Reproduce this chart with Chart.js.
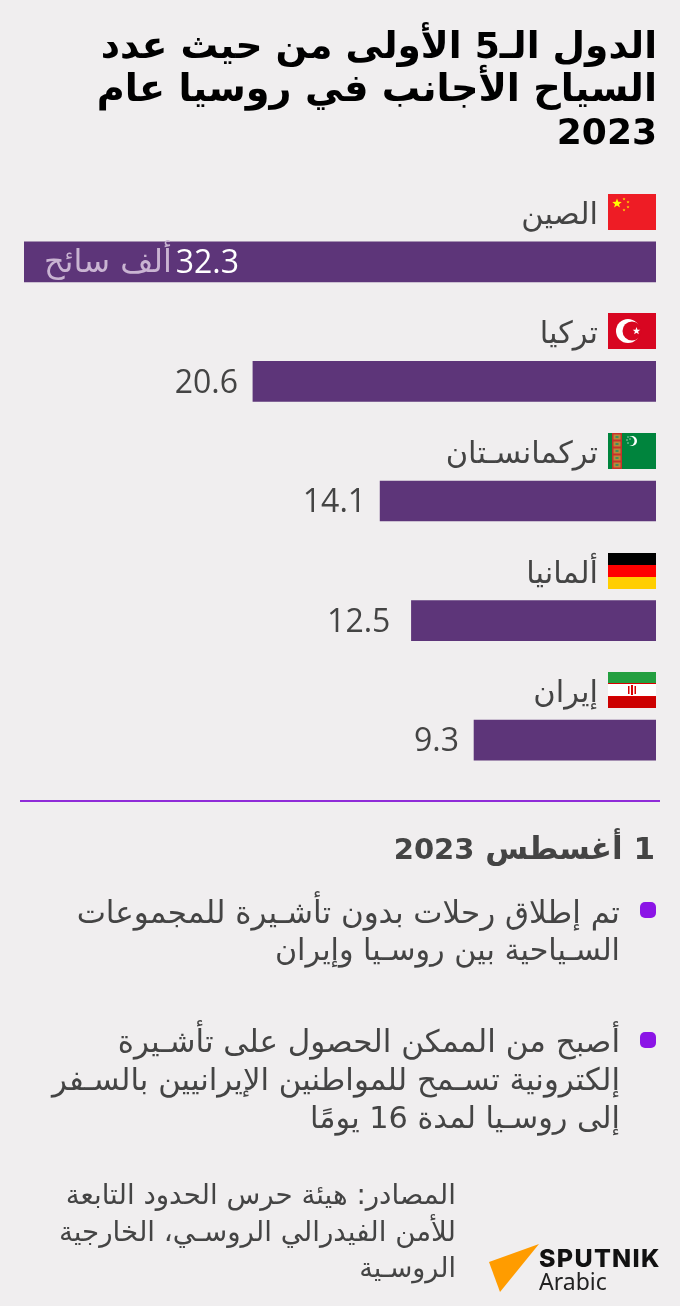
<!DOCTYPE html>
<html lang="ar" dir="rtl">
<head>
<meta charset="utf-8">
<script src="https://cdn.jsdelivr.net/npm/chart.js@4"></script>
<style>
html, body { margin: 0; padding: 0; background: #f0eeef; }
body { width: 680px; height: 1306px; position: relative; overflow: hidden; font-family: "DejaVu Sans", sans-serif; color: #444; }
#chart { position: absolute; left: 0; top: 0; }
.t { position: absolute; white-space: nowrap; direction: rtl; text-align: right; }
.title { right: 23px; font-size: 38px; font-weight: bold; color: #000; line-height: 44px; }
.title span { font-size: 36px; }
.date { right: 25px; top: 826px; font-size: 31px; font-weight: bold; line-height: 44px; }
.date span { font-size: 29px; }
.note { right: 60px; font-size: 31px; line-height: 38px; }
.src { right: 224px; font-size: 27.7px; line-height: 36px; }
.bullet { position: absolute; left: 640px; width: 16px; height: 16px; border-radius: 5px; background: #8b14e6; }
.rule { position: absolute; left: 20px; width: 640px; top: 800px; height: 2px; background: #8f2bd8; }
#logo { position: absolute; left: 486px; top: 1242px; }
.sp { position: absolute; left: 539px; top: 1243px; font: 800 25px "Inter", sans-serif; color: #111; direction: ltr; letter-spacing: 1.3px; }
.ar { position: absolute; left: 539px; top: 1265px; font: 23px "Noto Sans", sans-serif; color: #222; direction: ltr; }
</style>
</head>
<body>
<canvas id="chart" width="680" height="1306"></canvas>

<div class="t title" style="top:23px;font-size:37.5px">الدول الـ<span>5</span> الأولى من حيث عدد</div>
<div class="t title" style="top:66px;font-size:38.2px">السياح الأجانب في روسيا عام</div>
<div class="t title" style="top:109px"><span>2023</span></div>

<div class="rule"></div>
<div class="t date">1 أغسطس <span>2023</span></div>

<div class="bullet" style="top:902px"></div>
<div class="t note" style="top:893px">تم إطلاق رحلات بدون تأشـيرة للمجموعات</div>
<div class="t note" style="top:931px;font-size:30.2px">السـياحية بين روسـيا وإيران</div>

<div class="bullet" style="top:1032px"></div>
<div class="t note" style="top:1022px">أصبح من الممكن الحصول على تأشـيرة</div>
<div class="t note" style="top:1060px;font-size:30.8px">إلكترونية تسـمح للمواطنين الإيرانيين بالسـفر</div>
<div class="t note" style="top:1099px;font-size:30.3px">إلى روسـيا لمدة 16 يومًا</div>

<div class="t src" style="top:1177px">المصادر: هيئة حرس الحدود التابعة</div>
<div class="t src" style="top:1214px">للأمن الفيدرالي الروسـي، الخارجية</div>
<div class="t src" style="top:1250px;font-size:27px">الروسـية</div>

<svg id="logo" width="56" height="52"><polygon points="3,20 53,2 14,50" fill="#ff9c00"/></svg>
<div class="sp">SPUTNIK</div>
<div class="ar">Arabic</div>

<script>
const categories = ['الصين', 'تركيا', 'تركمانسـتان', 'ألمانيا', 'إيران'];
const values = [32.3, 20.6, 14.1, 12.5, 9.3];
const unitLabel = 'ألف سائح';

// gap between a bar's end and its value
const labelGaps = [0, 15, 14, 21, 15];

function stripes(ctx, x, y, w, h, colors) {
    const sh = h / colors.length;
    colors.forEach((c, i) => {
        ctx.fillStyle = c;
        ctx.fillRect(x, y + i * sh, w, sh);
    });
}

function star(ctx, cx, cy, r, color) {
    ctx.fillStyle = color;
    ctx.beginPath();
    for (let i = 0; i < 10; i++) {
        const a = -Math.PI / 2 + i * Math.PI / 5;
        const rr = i % 2 ? r * 0.42 : r;
        ctx.lineTo(cx + rr * Math.cos(a), cy + rr * Math.sin(a));
    }
    ctx.closePath();
    ctx.fill();
}

function crescent(ctx, cx, cy, r, dx, r2, color, bg) {
    ctx.fillStyle = color;
    ctx.beginPath();
    ctx.arc(cx, cy, r, 0, Math.PI * 2);
    ctx.fill();
    ctx.fillStyle = bg;
    ctx.beginPath();
    ctx.arc(cx + dx, cy, r2, 0, Math.PI * 2);
    ctx.fill();
}

// flags, one per category
const flags = [
    (ctx, x, y, w, h) => {
        stripes(ctx, x, y, w, h, ['#ee1c25']);
        star(ctx, x + 9, y + 9.5, 5, '#ffff00');
        [[16, 5], [20, 8], [20, 13], [16, 16]].forEach(p => star(ctx, x + p[0], y + p[1], 1.6, '#ffde00'));
    },
    (ctx, x, y, w, h) => {
        stripes(ctx, x, y, w, h, ['#d80621']);
        crescent(ctx, x + 20, y + 18, 12, 4, 9.5, '#ffffff', '#d80621');
        star(ctx, x + 28.5, y + 18, 4, '#ffffff');
    },
    (ctx, x, y, w, h) => {
        stripes(ctx, x, y, w, h, ['#00843d']);
        ctx.fillStyle = '#c8312a';
        ctx.fillRect(x + 4, y, 10, h);
        ctx.fillStyle = '#b9893a';
        for (let i = 0; i < 5; i++) ctx.fillRect(x + 5.5, y + 1.5 + i * 7, 7, 5);
        ctx.fillStyle = '#3f8f5a';
        for (let i = 0; i < 5; i++) ctx.fillRect(x + 7.5, y + 3 + i * 7, 3, 2);
        crescent(ctx, x + 24, y + 8, 5, -2, 4.5, '#ffffff', '#00843d');
        [[20, 4], [19, 7], [20, 10], [22, 6]].forEach(p => star(ctx, x + p[0], y + p[1], 1, '#ffffff'));
    },
    (ctx, x, y, w, h) => {
        stripes(ctx, x, y, w, h, ['#000000', '#ff0000', '#ffce00']);
    },
    (ctx, x, y, w, h) => {
        stripes(ctx, x, y, w, h, ['#239f40', '#ffffff', '#cc0000']);
        ctx.fillStyle = '#da0000';
        ctx.fillRect(x + 20, y + 14, 1.5, 8);
        ctx.fillRect(x + 23, y + 13, 2, 10);
        ctx.fillRect(x + 26.5, y + 14, 1.5, 8);
        ctx.fillRect(x, y + 11, w, 1);
        ctx.fillRect(x, y + 24, w, 1);
    }
];

const barLabels = {
    id: 'barLabels',
    afterDatasetsDraw(chart) {
        const { ctx, scales: { x, y } } = chart;
        const right = x.getPixelForValue(0);
        ctx.save();
        values.forEach((v, i) => {
            const cy = y.getPixelForValue(i);
            const left = x.getPixelForValue(v);

            // flag and country name above the bar
            flags[i](ctx, right - 48, Math.round(cy - 68), 48, 36);
            ctx.direction = 'rtl';
            ctx.textAlign = 'right';
            ctx.textBaseline = 'middle';
            ctx.fillStyle = '#444';
            ctx.font = '30.5px "DejaVu Sans"';
            ctx.fillText(categories[i], right - 58, cy - 46);

            // value, the first one sits inside its bar with the unit
            ctx.direction = 'ltr';
            ctx.font = '32px "Open Sans"';
            if (i === 0) {
                ctx.textAlign = 'right';
                ctx.fillStyle = '#fff';
                ctx.fillText(v.toFixed(1), left + 215, cy + 2);
                ctx.direction = 'rtl';
                ctx.textAlign = 'right';
                ctx.fillStyle = '#c9b4d2';
                ctx.font = '32px "DejaVu Sans"';
                ctx.fillText(unitLabel, left + 148, cy + 2);
            } else {
                ctx.textAlign = 'right';
                ctx.fillStyle = '#444';
                ctx.fillText(v.toFixed(1), left - labelGaps[i], cy + 2);
            }
        });
        ctx.restore();
    }
};

new Chart(document.getElementById('chart'), {
    type: 'bar',
    data: {
        labels: categories,
        datasets: [{
            data: values,
            backgroundColor: '#5d3579',
            barThickness: 40
        }]
    },
    options: {
        indexAxis: 'y',
        responsive: false,
        animation: false,
        layout: { padding: { left: 24, right: 24, top: 202, bottom: 506 } },
        plugins: { legend: { display: false }, tooltip: { enabled: false } },
        scales: {
            x: { display: false, reverse: true, min: 0, max: 32.3 },
            y: { display: false }
        }
    },
    plugins: [barLabels]
});
</script>
</body>
</html>
